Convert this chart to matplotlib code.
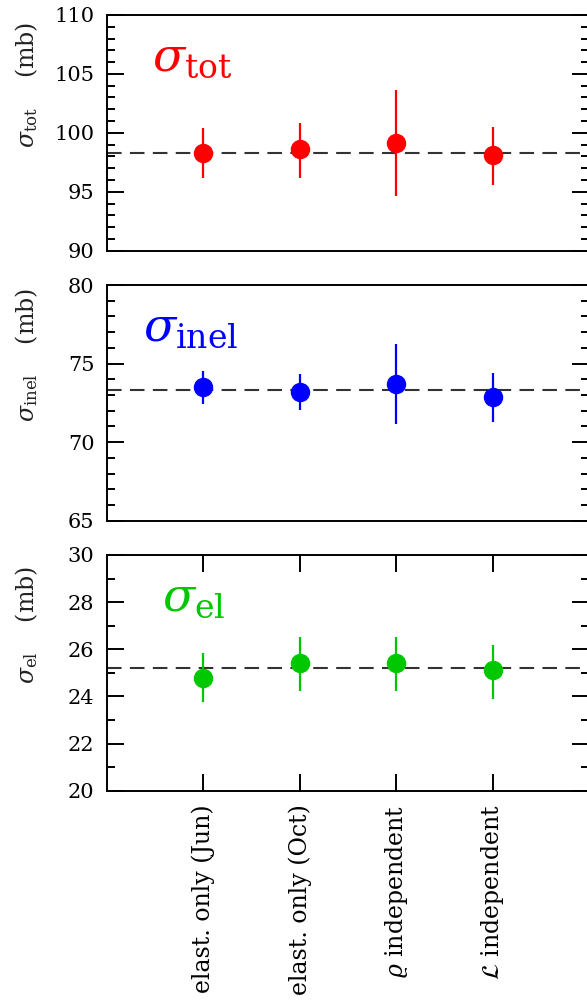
import matplotlib
matplotlib.use("Agg")
import matplotlib.pyplot as plt
from matplotlib.ticker import MultipleLocator

plt.rcParams['font.family'] = ['DejaVu Serif']
plt.rcParams['mathtext.fontset'] = 'dejavuserif'

# analysis variants (x axis)
methods = ["elast. only (Jun)", "elast. only (Oct)",
           r"$\varrho$ independent", r"$\mathcal{L}$ independent"]
xpos = [1, 2, 3, 4]

# total cross-section (mb)
tot_val = [98.3, 98.6, 99.1, 98.1]
tot_lo = [2.1, 2.4, 4.5, 2.5]
tot_hi = [2.1, 2.25, 4.5, 2.4]
tot_ref = 98.3

# inelastic cross-section (mb)
inel_val = [73.5, 73.2, 73.7, 72.85]
inel_lo = [1.05, 1.15, 2.55, 1.55]
inel_hi = [1.05, 1.15, 2.55, 1.55]
inel_ref = 73.35

# elastic cross-section (mb)
el_val = [24.8, 25.4, 25.4, 25.1]
el_lo = [1.05, 1.15, 1.15, 1.2]
el_hi = [1.05, 1.1, 1.1, 1.1]
el_ref = 25.2

panels = [
    dict(val=tot_val, lo=tot_lo, hi=tot_hi, ref=tot_ref, color='#ff0000',
         sub='tot', ylim=(90, 110), major=5, minor=1, tx=0.093),
    dict(val=inel_val, lo=inel_lo, hi=inel_hi, ref=inel_ref, color='#0000ff',
         sub='inel', ylim=(65, 80), major=5, minor=1, tx=0.075),
    dict(val=el_val, lo=el_lo, hi=el_hi, ref=el_ref, color='#00c800',
         sub='el', ylim=(20, 30), major=2, minor=1, tx=0.114),
]

fig = plt.figure(figsize=(5.87, 10.01), dpi=100)
left, width, height = 107 / 587, 482 / 587, 235.7 / 1001
bottoms = [0.7496, 0.4798, 0.2101]

for i, p in enumerate(panels):
    ax = fig.add_axes([left, bottoms[i], width, height])
    ax.axhline(p['ref'], color='#333333', lw=1.5, dashes=(7, 4), zorder=1)
    ax.errorbar(xpos, p['val'], yerr=[p['lo'], p['hi']], fmt='o',
                color=p['color'], ms=13, elinewidth=1.6, capsize=0, zorder=3)
    ax.set_xlim(0, 5)
    ax.set_ylim(*p['ylim'])
    ax.yaxis.set_major_locator(MultipleLocator(p['major']))
    ax.yaxis.set_minor_locator(MultipleLocator(p['minor']))
    ax.tick_params(axis='y', which='both', direction='in', left=True, right=True,
                   width=1.4, labelsize=15, pad=9)
    ax.tick_params(axis='y', which='major', length=12)
    ax.tick_params(axis='y', which='minor', length=6)
    for s in ax.spines.values():
        s.set_linewidth(1.4)

    if i == 2:
        ax.set_xticks(xpos)
        ax.set_xticklabels(methods, rotation=90, va='top', ha='center')
        ax.tick_params(axis='x', direction='in', top=True, bottom=True,
                       length=12, width=1.4, labelsize=17, pad=10)
    else:
        ax.set_xticks([])

    # axis label and big panel title
    ax.text(-0.166, 0.705, r"$\sigma_{\rm %s}$    (mb)" % p['sub'],
            transform=ax.transAxes, rotation=90, ha='center', va='center',
            fontsize=17, color='#222222')
    ax.text(p['tx'], 0.762, r"$\sigma_{\rm %s}$" % p['sub'],
            transform=ax.transAxes, ha='left', va='baseline',
            fontsize=34, color=p['color'])

fig.savefig("out.png", dpi=100)
